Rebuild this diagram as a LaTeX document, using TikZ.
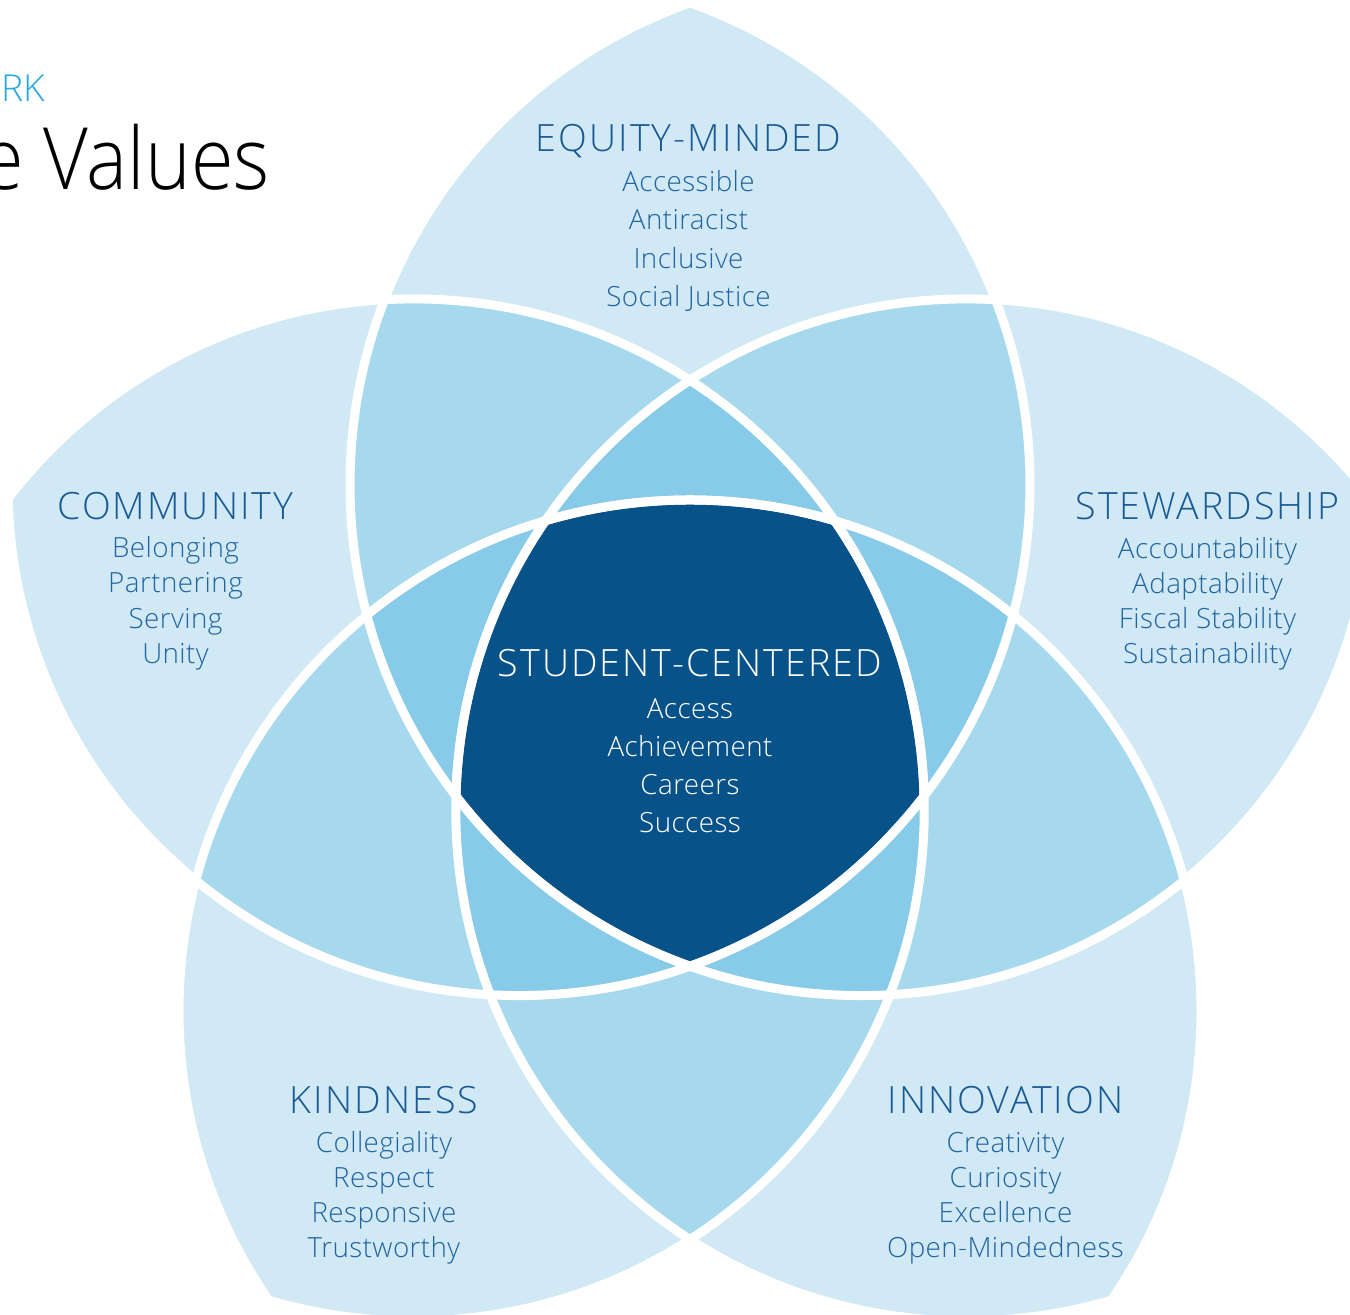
\documentclass[tikz,border=0pt]{standalone}
\usepackage{fontspec}
\IfFontExistsTF{Open Sans Light}{%
  \setmainfont{Open Sans Light}
  \newfontfamily\headfont[LetterSpace=5.5]{Open Sans Light}
  \newfontfamily\itemfont[LetterSpace=1.5]{Open Sans Light}
  \newfontfamily\titlefont[FakeStretch=0.9]{Open Sans Light}
}{%
  \setmainfont{Open Sans}
  \newfontfamily\headfont[LetterSpace=4.5]{Open Sans}
  \newfontfamily\itemfont{Open Sans}
  \newfontfamily\titlefont[FakeStretch=0.88]{Open Sans}
}
\definecolor{petalA}{HTML}{D0E9F5}
\definecolor{petalB}{HTML}{A6D8EE}
\definecolor{petalC}{HTML}{87CBE8}
\definecolor{coreblue}{HTML}{08528A}
\definecolor{headblue}{HTML}{1A5A94}
\definecolor{itemblue}{HTML}{2265A0}
\definecolor{cyanlabel}{HTML}{29A9E1}
\newcommand\petalR{255.5pt}
\tikzset{
  headtxt/.style={anchor=base, text=headblue, inner sep=0pt, font=\headfont\fontsize{18.8}{22}\selectfont},
  itemtxt/.style={anchor=base, text=itemblue, inner sep=0pt, font=\itemfont\fontsize{13.9}{16}\selectfont},
  corehead/.style={headtxt, text=white},
  coreitem/.style={itemtxt, text=white},
  petaledge/.style={draw=white, line width=4.5pt},
}
\newcommand\itemrows[9]{%
  \node[#5] (#1a) at (#2,{1315-#3}) {#6};
  \node[#5] (#1b) at (#2,{1315-#3-#4}) {#7};
  \node[#5] (#1c) at (#2,{1315-#3-2*#4}) {#8};
  \node[#5] (#1d) at (#2,{1315-#3-3*#4}) {#9};
}
\begin{document}
\begin{tikzpicture}[x=0.5pt,y=0.5pt]
\useasboundingbox (0,0) rectangle (1350,1315);
\clip (0,0) rectangle (1350,1315);
\fill[white] (0,0) rectangle (1350,1315);
\coordinate (O) at (690,595);
\foreach \k in {0,...,4}{
  \path (O) ++ ({54+72*\k}:145.5pt) coordinate (c\k);
}
% single petals
\foreach \a/\b in {0/1,1/2,2/3,3/4,4/0}{
  \begin{scope}
    \clip (c\a) circle[radius=\petalR];
    \fill[petalA] (c\b) circle[radius=\petalR];
  \end{scope}
}
% two petals overlapping
\foreach \a/\b/\c in {0/1/2,1/2/3,2/3/4,3/4/0,4/0/1}{
  \begin{scope}
    \clip (c\a) circle[radius=\petalR];
    \clip (c\b) circle[radius=\petalR];
    \fill[petalB] (c\c) circle[radius=\petalR];
  \end{scope}
}
% three petals overlapping
\foreach \a/\b/\c/\d in {0/1/2/3,1/2/3/4,2/3/4/0,3/4/0/1,4/0/1/2}{
  \begin{scope}
    \clip (c\a) circle[radius=\petalR];
    \clip (c\b) circle[radius=\petalR];
    \clip (c\c) circle[radius=\petalR];
    \fill[petalC] (c\d) circle[radius=\petalR];
  \end{scope}
}
% core
\begin{scope}
  \clip (c0) circle[radius=\petalR];
  \clip (c1) circle[radius=\petalR];
  \clip (c2) circle[radius=\petalR];
  \clip (c3) circle[radius=\petalR];
  \fill[coreblue] (c4) circle[radius=\petalR];
\end{scope}
% white petal outlines
\foreach \a/\b in {0/1,1/2,2/3,3/4,4/0,1/0,2/1,3/2,4/3,0/4}{
  \begin{scope}
    \clip (c\a) circle[radius=\petalR];
    \path[petaledge] (c\b) circle[radius=\petalR];
  \end{scope}
}
% title fragments
\node[anchor=base east, inner sep=0pt, text=cyanlabel, font=\fontsize{18.6}{22}\selectfont] (fw) at (46,{1315-101.7}) {RK};
\node[anchor=base east, inner sep=0pt, text=black, font=\titlefont\fontsize{43}{50}\selectfont] (cv) at (270,{1315-190}) {e Values};
% texts
\node[headtxt] (eqh) at (688.5,{1315-152}) {EQUITY-MINDED};
\itemrows{eq}{688.5}{191.7}{38.3}{itemtxt}{Accessible}{Antiracist}{Inclusive}{Social Justice}
\node[headtxt] (coh) at (175.5,{1315-519.3}) {COMMUNITY};
\itemrows{co}{175.5}{557.8}{35.2}{itemtxt}{Belonging}{Partnering}{Serving}{Unity}
\node[headtxt] (sth) at (1207.5,{1315-519.3}) {STEWARDSHIP};
\itemrows{st}{1207.5}{558.3}{35}{itemtxt}{Accountability}{Adaptability}{Fiscal Stability}{Sustainability}
\node[corehead] (sch) at (690,{1315-676.7}) {STUDENT-CENTERED};
\itemrows{sc}{690}{718.3}{38.2}{coreitem}{Access}{Achievement}{Careers}{Success}
\node[headtxt] (kih) at (384,{1315-1113.3}) {KINDNESS};
\itemrows{ki}{384}{1152.3}{35}{itemtxt}{Collegiality}{Respect}{Responsive}{Trustworthy}
\node[headtxt] (inh) at (1005.5,{1315-1113.3}) {INNOVATION};
\itemrows{in}{1005.5}{1152.3}{35}{itemtxt}{Creativity}{Curiosity}{Excellence}{Open-Mindedness}
\end{tikzpicture}
\end{document}
